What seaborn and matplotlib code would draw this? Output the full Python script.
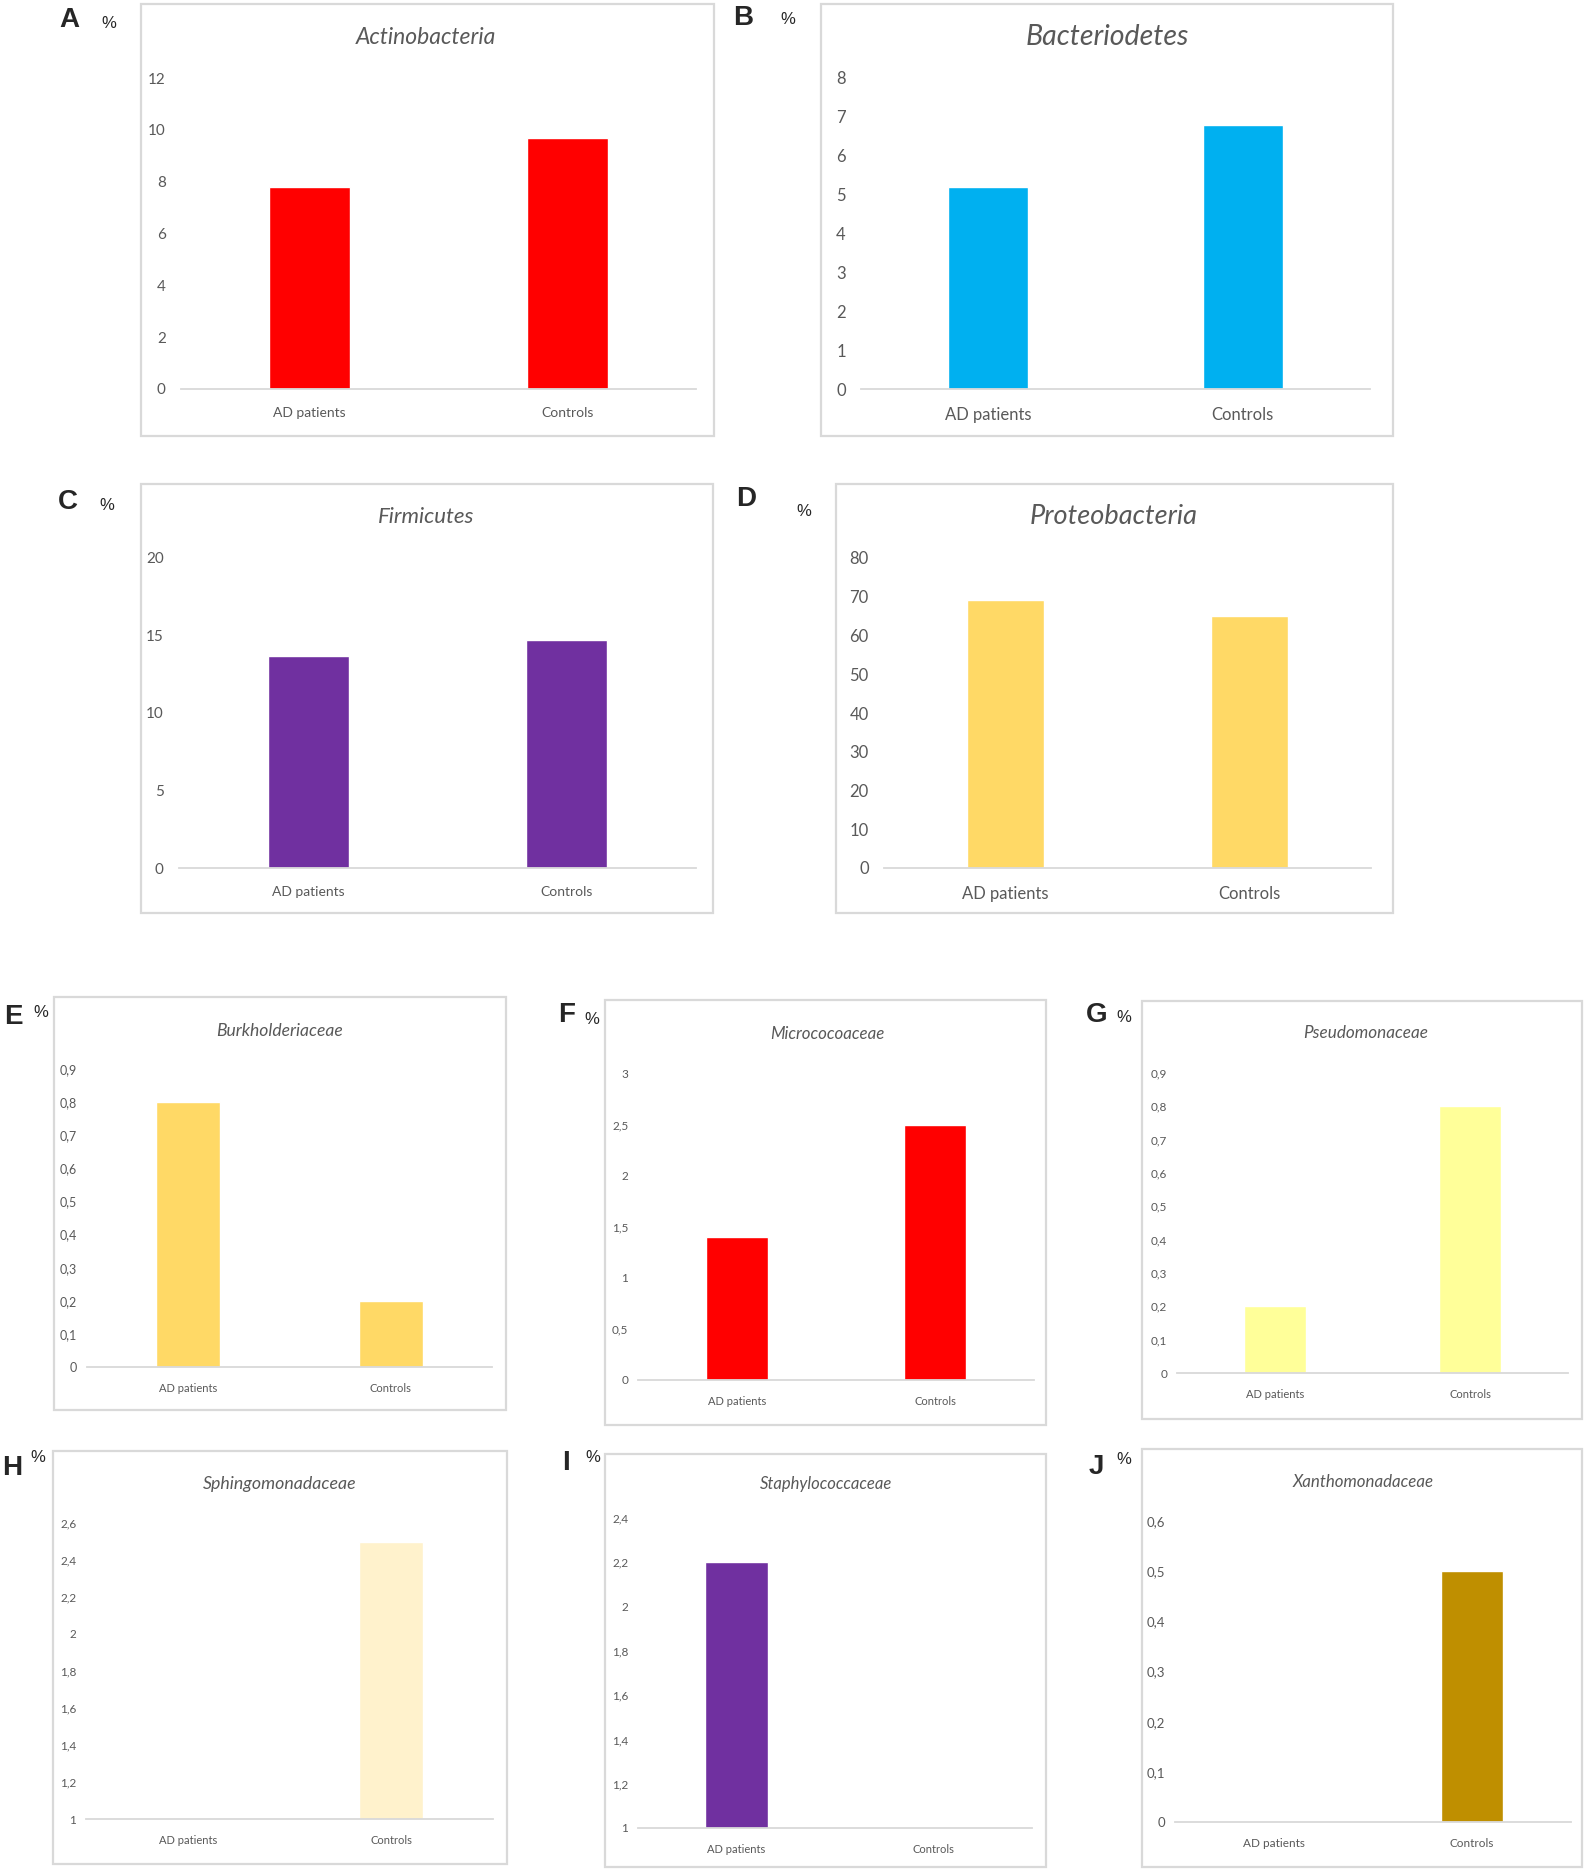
import numpy as np
import pandas as pd
import seaborn as sns
import matplotlib
matplotlib.use("Agg")
import matplotlib.pyplot as plt
from matplotlib.patches import Rectangle
from matplotlib.ticker import FuncFormatter

sns.set_theme(style="white")
plt.rcParams["font.family"] = ["Lato", "DejaVu Sans"]

# data (% relative abundance)
groups = ["AD patients", "Controls"]
letters = ["A", "B", "C", "D", "E", "F", "G", "H", "I", "J"]
titles = ["Actinobacteria", "Bacteriodetes", "Firmicutes", "Proteobacteria",
          "Burkholderiaceae", "Micrococoaceae", "Pseudomonaceae",
          "Sphingomonadaceae", "Staphylococcaceae", "Xanthomonadaceae"]
ad_values = [7.8, 5.2, 13.7, 69.2, 0.8, 1.4, 0.2, 1.0, 2.2, 0.0]
control_values = [9.7, 6.8, 14.7, 65.1, 0.2, 2.5, 0.8, 2.5, 0.99, 0.5]
bar_colors = ["#FF0000", "#00B0F0", "#7030A0", "#FFD966", "#FFD966",
              "#FF0000", "#FFFF99", "#FFF2CC", "#7030A0", "#BF8F00"]
y_min = [0, 0, 0, 0, 0, 0, 0, 1, 1, 0]
y_max = [12, 8, 20, 80, 0.9, 3, 0.9, 2.6, 2.4, 0.6]
y_step = [2, 1, 5, 10, 0.1, 0.5, 0.1, 0.2, 0.2, 0.1]

# layout in pixels of the 1588x1873 canvas
W, H = 1588, 1873
boxes = [(141, 4, 714, 436), (821, 4, 1393, 436), (141, 484, 713, 913),
         (836, 484, 1393, 913), (54, 997, 506, 1410), (605, 1000, 1046, 1425),
         (1142, 1001, 1582, 1419), (53, 1451, 507, 1864), (605, 1454, 1046, 1867),
         (1142, 1449, 1582, 1867)]
axes_px = [(181, 696, 78, 389), (861, 1370, 78, 389), (179, 696, 558, 868),
           (884, 1371, 558, 868), (87, 492, 1069, 1367), (638, 1034, 1074, 1380),
           (1177, 1568, 1073, 1373), (86, 493, 1523, 1819), (638, 1032, 1518, 1828),
           (1175, 1571, 1521, 1822)]
title_px = [(426, 37), (1107, 37), (426, 517), (1114, 517), (280, 1031),
            (827, 1034), (1366, 1033), (280, 1484), (826, 1484), (1363, 1482)]
letter_px = [(69, 20), (743, 18), (68, 502), (746, 499), (13, 1017),
             (567, 1015), (1097, 1015), (12, 1468), (566, 1463), (1096, 1467)]
pct_px = [(109, 23), (788, 20), (107, 506), (804, 511), (41, 1012),
          (592, 1019), (1124, 1017), (38, 1458), (593, 1457), (1124, 1460)]
title_size = [16.5, 20.5, 16, 19.5, 12.6, 12.2, 12.3, 12.8, 12, 12.2]
tick_size = [11, 12, 11, 12, 9, 8.5, 8.5, 8.5, 8.5, 9.5]
cat_size = [10, 12, 10, 12, 8, 8, 8, 8, 8, 8.5]
grey = "#595959"


def fx(x):
    return x / W


def fy(y):
    return 1 - y / H


fig = plt.figure(figsize=(W / 100, H / 100), dpi=100)
fig.patch.set_facecolor("white")

for i in range(len(titles)):
    x0, y0, x1, y1 = boxes[i]
    fig.patches.append(Rectangle((fx(x0), fy(y1)), (x1 - x0) / W, (y1 - y0) / H,
                                 transform=fig.transFigure, fill=False,
                                 edgecolor="#d9d9d9", lw=1.6))
    ax0, ax1, at, ab = axes_px[i]
    ax = fig.add_axes([fx(ax0), fy(ab), (ax1 - ax0) / W, (ab - at) / H])
    ax.patch.set_alpha(0)

    df = pd.DataFrame({"group": groups, "value": [ad_values[i], control_values[i]]})
    sns.barplot(data=df, x="group", y="value", color=bar_colors[i],
                saturation=1, width=0.315, ax=ax)
    ax.set_xlim(-0.5, 1.5)
    ax.set_ylim(y_min[i], y_max[i])
    n = int(round((y_max[i] - y_min[i]) / y_step[i]))
    ax.set_yticks(np.linspace(y_min[i], y_max[i], n + 1))
    ax.yaxis.set_major_formatter(FuncFormatter(
        lambda v, p: ("%g" % round(v, 2)).replace(".", ",")))
    ax.set_xlabel("")
    ax.set_ylabel("")
    for s in ["top", "right", "left"]:
        ax.spines[s].set_visible(False)
    ax.spines["bottom"].set_color("#d9d9d9")
    ax.spines["bottom"].set_linewidth(1.3)
    big = i < 4
    ax.tick_params(axis="y", length=0, labelcolor=grey, labelsize=tick_size[i],
                   pad=11 if big else 7)
    ax.tick_params(axis="x", length=0, labelcolor=grey, labelsize=cat_size[i],
                   pad=13 if big else 11.5)

    tx, ty = title_px[i]
    fig.text(fx(tx), fy(ty), titles[i], ha="center", va="center",
             fontsize=title_size[i], style="italic", color=grey)
    lx, ly = letter_px[i]
    fig.text(fx(lx), fy(ly), letters[i], ha="center", va="center",
             fontsize=20, fontweight="bold",
             family=["Liberation Sans", "DejaVu Sans"])
    px, py = pct_px[i]
    fig.text(fx(px), fy(py), "%", ha="center", va="center", fontsize=12,
             family=["Liberation Sans", "DejaVu Sans"])

fig.savefig("out.png", dpi=100)
